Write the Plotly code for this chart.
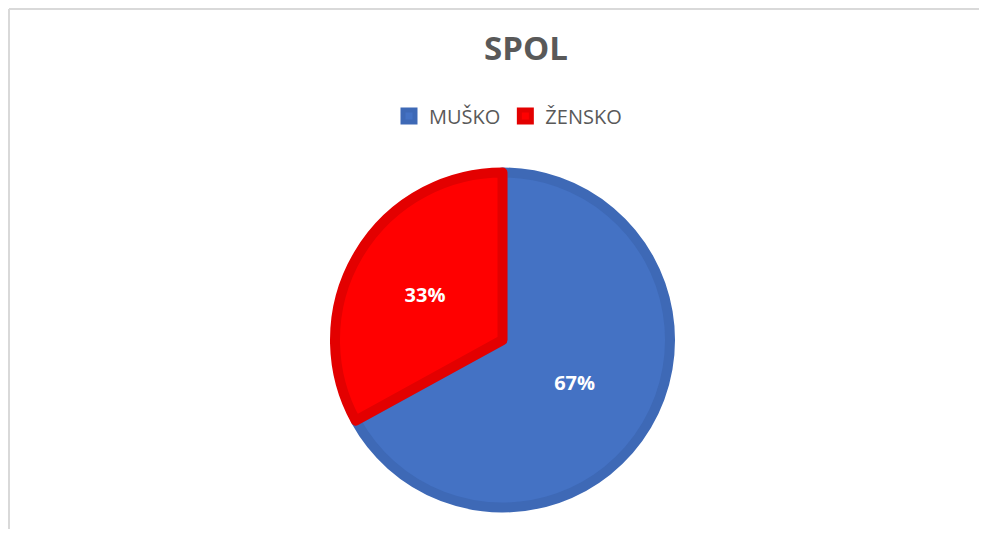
import plotly.graph_objects as go

categories = ["MUŠKO", "ŽENSKO"]
values = [67, 33]
fill_colors = ["#4472C4", "#FF0000"]
line_colors = ["#3E69B6", "#E30000"]
title_text = "SPOL"

# page body has an 8px margin; size the figure so it fits the window
W, H = 971, 521
OFF = 8


def px(x):
    return (x - OFF) / W


def py(y):
    return 1 - (y - OFF) / H


cx, cy, r = 502.5, 340, 167.5

fig = go.Figure(go.Pie(
    labels=categories,
    values=values,
    sort=False,
    direction="clockwise",
    rotation=0,
    marker=dict(colors=fill_colors, line=dict(color=line_colors, width=10)),
    textinfo="percent",
    texttemplate="%{percent:.0%}",
    textposition="inside",
    insidetextorientation="horizontal",
    textfont=dict(family="Open Sans", size=20, color="white", weight="bold"),
    domain=dict(x=[px(cx - 300), px(cx + 300)], y=[py(cy + r), py(cy - r)]),
    hoverinfo="label+percent",
))

fig.update_layout(
    width=W, height=H,
    margin=dict(l=0, r=0, t=0, b=0),
    paper_bgcolor="white",
    plot_bgcolor="white",
    title=dict(text="<b>" + title_text + "</b>", x=px(526), xanchor="center",
               y=py(48), yanchor="middle",
               font=dict(family="Open Sans", size=33, color="#595959")),
    showlegend=True,
    legend=dict(orientation="h", x=px(508), xanchor="center",
                y=py(116), yanchor="middle",
                font=dict(family="Open Sans", size=20, color="#595959"),
                itemwidth=30),
    shapes=[
        dict(type="line", xref="paper", yref="paper", x0=px(9), x1=1, y0=py(9), y1=py(9),
             line=dict(color="#D9D9D9", width=2)),
        dict(type="line", xref="paper", yref="paper", x0=px(9), x1=px(9), y0=0, y1=py(9),
             line=dict(color="#D9D9D9", width=2)),
    ],
)

fig.write_html("out.html")
